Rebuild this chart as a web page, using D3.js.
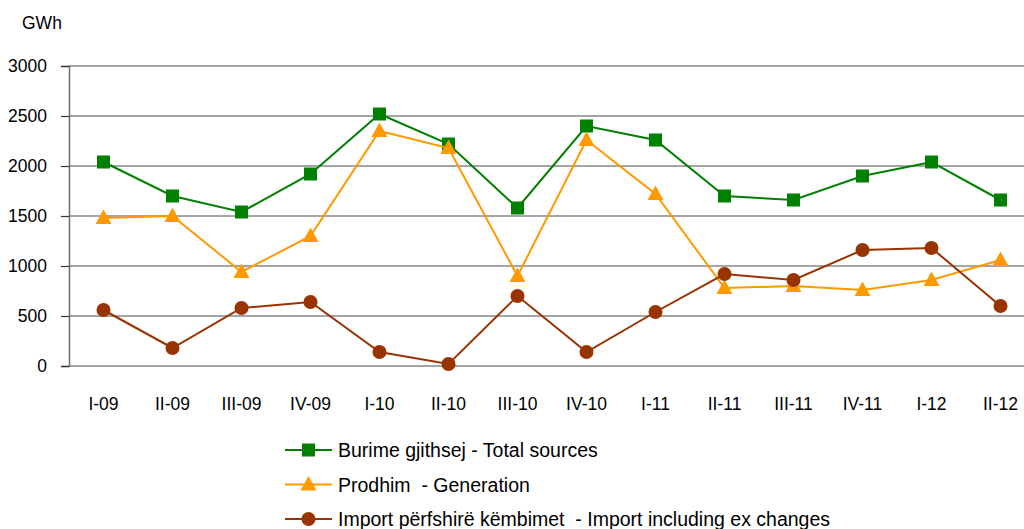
<!DOCTYPE html>
<html>
<head>
<meta charset="utf-8">
<script src="https://cdn.jsdelivr.net/npm/d3@7"></script>
<style>
	body { margin: 0; background: #fff; }
	text { font-family: "Liberation Sans", Arial, sans-serif; fill: #000; }
</style>
</head>
<body>
<div id="chart"></div>
<script>
var quarters = ["I-09", "II-09", "III-09", "IV-09", "I-10", "II-10", "III-10", "IV-10", "I-11", "II-11", "III-11", "IV-11", "I-12", "II-12"];
var totalSources = [2040, 1700, 1540, 1920, 2520, 2220, 1580, 2400, 2260, 1700, 1660, 1900, 2040, 1660];
var generation = [1480, 1500, 940, 1300, 2350, 2180, 900, 2260, 1720, 780, 800, 760, 860, 1060];
var imports = [560, 180, 580, 640, 140, 20, 700, 140, 540, 920, 860, 1160, 1180, 600];
var yTicks = [0, 500, 1000, 1500, 2000, 2500, 3000];

var series = [
	{name: "Burime gjithsej - Total sources", values: totalSources, color: "#008000", shape: "square"},
	{name: "Prodhim  - Generation", values: generation, color: "#ff9900", shape: "triangle"},
	{name: "Import përfshirë këmbimet  - Import including ex changes", values: imports, color: "#993300", shape: "circle"}
];

var width = 1024, height = 529;
var margin = {top: 66, left: 69};
var plotW = 966, plotH = 300;

var svg = d3.select("#chart").append("svg")
	.attr("width", width)
	.attr("height", height);

var xScale = d3.scaleBand().domain(quarters).range([margin.left, margin.left + plotW]);
var yScale = d3.scaleLinear().domain([0, 3000]).range([margin.top + plotH, margin.top]);

// gridlines
svg.append("g")
	.selectAll("line")
	.data(yTicks)
	.enter()
	.append("line")
	.attr("x1", margin.left)
	.attr("x2", margin.left + plotW)
	.attr("y1", function(d) { return yScale(d); })
	.attr("y2", function(d) { return yScale(d); })
	.attr("stroke", "#878787")
	.attr("stroke-width", 1.3);

// y axis
var yAxis = svg.append("g")
	.attr("transform", "translate(" + margin.left + ",0)")
	.call(d3.axisLeft(yScale).tickValues(yTicks).tickSize(8).tickPadding(14).tickFormat(d3.format("d")));
yAxis.select(".domain").attr("stroke", "#6e6e6e").attr("stroke-width", 1.5);
yAxis.selectAll(".tick line").attr("stroke", "#333").attr("stroke-width", 1.2);
yAxis.selectAll("text").style("font-size", "17.5px").attr("fill", "#000").attr("font-family", "Liberation Sans, Arial, sans-serif");

// x axis labels
var xAxis = svg.append("g")
	.attr("transform", "translate(0," + (margin.top + plotH) + ")")
	.call(d3.axisBottom(xScale).tickSize(0).tickPadding(32));
xAxis.select(".domain").remove();
xAxis.selectAll("text").style("font-size", "17.5px").attr("fill", "#000").attr("font-family", "Liberation Sans, Arial, sans-serif");

svg.append("text")
	.attr("x", 22)
	.attr("y", 29)
	.style("font-size", "17.5px")
	.text("GWh");

var line = d3.line()
	.x(function(d, i) { return xScale(quarters[i]) + xScale.bandwidth() / 2; })
	.y(function(d) { return yScale(d); });

function drawMarker(g, shape, color) {
	if (shape === "square") {
		g.append("rect").attr("x", -6.5).attr("y", -6.5).attr("width", 13).attr("height", 13).attr("fill", color);
	}
	else if (shape === "triangle") {
		g.append("path").attr("d", "M0,-8.5L8,6L-8,6Z").attr("fill", color);
	}
	else {
		g.append("circle").attr("r", 7).attr("fill", color);
	}
}

series.forEach(function(s) {
	svg.append("path")
		.datum(s.values)
		.attr("d", line)
		.attr("fill", "none")
		.attr("stroke", s.color)
		.attr("stroke-width", 2);

	svg.append("g")
		.selectAll("g")
		.data(s.values)
		.enter()
		.append("g")
		.attr("transform", function(d, i) {
			return "translate(" + (xScale(quarters[i]) + xScale.bandwidth() / 2) + "," + yScale(d) + ")";
		})
		.each(function() { drawMarker(d3.select(this), s.shape, s.color); });
});

// legend
var legend = svg.append("g").attr("transform", "translate(285,450)");
series.forEach(function(s, i) {
	var row = legend.append("g").attr("transform", "translate(0," + (i * 34.5) + ")");
	row.append("line").attr("x1", 0).attr("x2", 47).attr("y1", 0).attr("y2", 0)
		.attr("stroke", s.color).attr("stroke-width", 2);
	drawMarker(row.append("g").attr("transform", "translate(23.5,0)"), s.shape, s.color);
	row.append("text")
		.attr("x", 53)
		.attr("y", 7)
		.style("font-size", "19.5px")
		.style("white-space", "pre")
		.text(s.name);
});
</script>
</body>
</html>
